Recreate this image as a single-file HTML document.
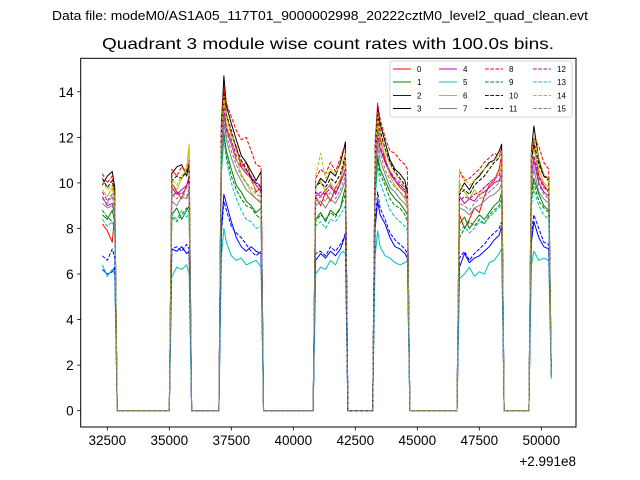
<!DOCTYPE html>
<html><head><meta charset="utf-8">
<style>
html,body{margin:0;padding:0;background:#fff;}
svg{display:block;font-family:"Liberation Sans",sans-serif;}
</style></head>
<body>
<svg id="chart" width="640" height="480" viewBox="0 0 640 480">
<rect x="0" y="0" width="640" height="480" fill="#fff"/>
<text x="320" y="20" text-anchor="middle" font-size="13" textLength="536" lengthAdjust="spacingAndGlyphs">Data file: modeM0/AS1A05_117T01_9000002998_20222cztM0_level2_quad_clean.evt</text>
<text x="328" y="49" text-anchor="middle" font-size="16" textLength="452" lengthAdjust="spacingAndGlyphs">Quadrant 3 module wise count rates with 100.0s bins.</text>
<g id="plot"></g>
<g id="axes"></g>
<g id="legend"></g>
</svg>
<script>
const times=[32300,32500,32700,32800,32900,35000,35100,35300,35500,35700,35800,35900,37000,37100,37200,37300,37500,37700,37900,38100,38300,38500,38700,38800,40800,40900,41100,41300,41500,41700,41900,42000,42100,42200,43200,43300,43400,43500,43700,43900,44100,44300,44500,44600,44700,46600,46700,46900,47100,47300,47500,47700,47900,48100,48300,48400,48500,49500,49600,49700,49900,50100,50300,50400];
const ch0=[8.2,7.9,7.4,8.6,0,0,10.0,9.6,9.3,9.9,10.3,0,0,12.0,14.2,13.0,12.1,11.6,10.7,10.9,10.2,9.6,9.8,0,0,9.4,9.0,9.6,9.2,9.8,10.1,10.6,11.0,0,0,10.6,12.8,12.0,11.0,10.5,10.1,9.8,9.6,9.2,0,0,8.6,8.0,8.4,8.9,8.7,9.4,9.9,10.1,10.6,11.2,0,0,10.8,11.7,10.3,9.9,9.6,1.7];
const ch1=[8.6,8.4,8.8,8.3,0,0,8.6,8.9,8.4,8.8,9.0,0,0,10.5,12.2,11.4,10.6,9.9,9.6,9.2,9.0,8.7,8.9,0,0,8.4,8.7,8.3,8.8,8.6,8.9,9.4,9.8,0,0,9.6,11.2,10.6,10.1,9.6,9.3,9.1,8.8,8.6,0,0,8.2,8.5,8.0,8.3,8.6,8.4,8.7,9.0,9.2,9.6,0,0,9.6,10.2,9.5,9.0,8.8,1.6];
const ch2=[6.2,6.0,6.1,6.3,0,0,7.1,7.0,7.2,6.9,7.0,0,0,8.0,9.5,9.1,8.3,7.6,7.2,7.0,7.2,7.0,6.9,0,0,6.6,6.9,6.7,7.0,6.8,7.1,7.4,7.8,0,0,8.0,9.2,8.6,8.2,7.6,7.2,7.1,6.9,6.7,0,0,6.3,6.9,6.5,6.7,6.8,7.0,7.2,7.5,7.7,8.1,0,0,7.4,8.3,7.6,7.2,7.1,1.9];
const ch3=[9.9,10.3,10.5,9.8,0,0,10.4,10.7,10.8,10.3,10.9,0,0,12.5,14.7,13.4,12.6,11.9,11.2,10.9,10.5,10.1,10.5,0,0,9.8,10.2,10.0,10.5,10.3,10.9,11.3,11.8,0,0,11.5,13.4,12.6,11.8,11.0,10.6,10.4,10.1,9.6,0,0,9.6,10.0,9.7,10.1,10.3,10.6,10.9,11.0,11.4,11.7,0,0,11.4,12.5,11.0,10.3,10.2,1.8];
const ch4=[9.4,9.0,9.1,8.7,0,0,9.8,9.5,9.7,9.9,10.1,0,0,11.5,13.0,12.3,11.7,11.0,10.7,10.4,10.2,9.9,9.6,0,0,9.6,9.4,9.7,9.9,9.5,10.0,10.3,10.6,0,0,10.4,12.0,11.5,10.9,10.4,10.1,9.9,9.7,9.5,0,0,9.4,9.1,9.3,9.2,9.5,9.6,9.8,10.0,10.1,10.4,0,0,10.4,11.0,10.0,9.6,9.4,1.7];
const ch5=[6.4,5.9,6.2,6.0,0,0,5.9,6.3,6.2,6.4,6.0,0,0,6.8,8.0,7.4,6.8,6.6,6.7,6.4,6.5,6.6,6.3,0,0,6.0,6.3,6.2,6.6,6.4,6.9,7.0,6.9,0,0,6.8,7.9,7.2,6.8,6.7,6.5,6.4,6.5,6.6,0,0,5.8,6.0,6.3,5.9,6.1,6.0,6.5,6.6,6.9,7.1,0,0,6.4,7.0,6.6,6.7,6.6,1.4];
const ch6=[9.7,9.4,9.8,9.2,0,0,10.0,9.7,10.2,10.6,11.7,0,0,11.8,13.5,12.6,11.8,11.1,10.4,10.0,9.6,9.3,9.2,0,0,9.8,10.1,9.6,10.0,9.7,10.2,10.5,10.9,0,0,10.8,12.5,11.8,11.2,10.3,9.9,9.6,9.3,9.0,0,0,10.0,9.6,9.3,9.7,9.4,9.8,10.0,10.2,10.4,10.8,0,0,10.9,11.5,10.6,10.0,9.8,1.8];
const ch7=[9.1,8.9,9.0,8.6,0,0,9.2,9.0,9.4,9.3,9.6,0,0,11.0,12.6,11.9,11.1,10.5,10.1,9.7,9.5,9.3,9.1,0,0,9.0,9.2,8.9,9.3,9.1,9.5,9.8,10.1,0,0,10.0,11.6,11.0,10.4,9.8,9.6,9.3,9.1,8.9,0,0,8.9,8.8,8.6,8.9,9.0,9.2,9.4,9.5,9.7,10.0,0,0,9.9,10.6,9.6,9.3,9.1,1.6];
const ch8=[10.4,10.0,10.3,9.4,0,0,10.6,10.3,10.7,10.5,11.0,0,0,12.8,14.2,13.5,12.9,12.3,11.9,12.0,11.4,10.8,10.7,0,0,10.2,10.6,10.4,10.9,10.5,11.1,11.4,11.5,0,0,11.8,13.5,12.8,12.0,11.4,11.3,11.0,10.8,10.6,0,0,10.5,10.1,10.2,10.4,10.6,10.9,11.1,11.3,11.2,11.5,0,0,11.2,12.0,11.6,10.9,10.6,1.9];
const ch9=[8.8,8.5,8.3,8.0,0,0,8.5,8.3,8.6,8.9,8.7,0,0,10.5,12.0,11.2,10.3,9.7,9.3,9.0,8.9,8.6,8.4,0,0,8.3,8.6,8.4,8.7,8.5,8.9,9.2,9.5,0,0,9.4,11.0,10.4,9.9,9.3,9.0,8.9,8.6,8.3,0,0,7.6,8.0,8.3,8.1,8.4,8.2,8.6,8.8,9.0,9.3,0,0,9.3,10.0,9.2,8.9,8.7,1.5];
const ch10=[6.8,6.6,7.1,6.7,0,0,7.1,7.2,7.0,7.3,7.1,0,0,7.8,9.2,8.8,8.1,7.8,7.6,7.3,7.0,6.8,7.0,0,0,6.9,7.0,6.8,7.2,7.0,7.3,7.5,7.6,0,0,8.2,9.6,8.9,8.4,7.8,7.5,7.3,7.1,6.9,0,0,6.7,7.0,6.6,6.9,7.1,7.3,7.6,7.8,8.0,8.3,0,0,7.8,8.6,8.0,7.4,7.3,1.9];
const ch11=[10.2,9.8,10.1,9.4,0,0,10.1,10.3,10.2,10.5,10.6,0,0,12.2,13.9,13.0,12.3,11.5,11.0,10.6,10.2,10.0,9.8,0,0,9.9,10.0,9.8,10.2,10.0,10.4,10.8,11.2,0,0,11.2,13.0,12.3,11.5,10.9,10.5,10.2,9.9,9.6,0,0,9.5,9.7,9.5,9.9,10.1,10.3,10.6,10.9,11.1,11.5,0,0,10.9,11.8,10.8,10.3,10.1,1.8];
const ch12=[9.6,9.2,9.5,8.9,0,0,9.4,9.6,9.5,9.8,9.9,0,0,11.6,13.3,12.4,11.9,11.2,10.9,10.5,10.3,10.0,9.9,0,0,9.4,9.6,9.5,9.8,9.6,10.0,10.3,10.4,0,0,10.6,12.3,11.6,11.0,10.5,10.2,10.0,9.8,9.6,0,0,9.2,9.4,9.3,9.5,9.6,9.8,10.0,10.2,10.3,10.6,0,0,10.3,11.2,10.2,9.8,9.6,1.7];
const ch13=[8.4,8.1,8.3,8.0,0,0,8.6,8.4,8.8,8.5,8.7,0,0,10.4,12.0,11.0,10.0,9.3,8.8,8.4,8.3,8.0,8.1,0,0,8.1,8.3,8.0,8.4,8.3,8.6,8.8,9.0,0,0,9.2,10.8,10.0,9.4,8.8,8.5,8.3,8.1,7.9,0,0,7.9,8.1,7.8,8.0,8.3,8.2,8.5,8.7,8.9,9.1,0,0,9.0,9.7,9.0,8.6,8.4,1.5];
const ch14=[10.1,9.7,9.9,9.5,0,0,10.2,9.9,10.3,10.7,11.5,0,0,12.2,13.8,12.9,12.2,11.4,10.9,10.5,10.1,9.7,9.5,0,0,10.3,11.3,10.2,10.6,10.4,10.8,11.0,11.3,0,0,11.3,12.9,12.1,11.4,10.8,10.4,10.1,9.8,9.5,0,0,10.6,10.2,9.9,10.1,10.4,10.6,10.8,11.0,11.2,11.4,0,0,11.3,12.0,11.1,10.4,10.2,1.8];
const ch15=[9.3,9.1,9.4,8.9,0,0,9.5,9.3,9.6,9.4,9.8,0,0,11.3,12.9,12.1,11.4,10.8,10.3,10.0,9.8,9.5,9.4,0,0,9.2,9.4,9.2,9.6,9.3,9.7,10.0,10.3,0,0,10.3,11.9,11.3,10.6,10.1,9.8,9.6,9.4,9.2,0,0,9.1,9.0,8.8,9.1,9.3,9.4,9.6,9.8,10.0,10.2,0,0,10.1,10.9,9.9,9.5,9.3,1.6];
const seriesLabels=["0","1","2","3","4","5","6","7","8","9","10","11","12","13","14","15"];
const xTicks=[32500,35000,37500,40000,42500,45000,47500,50000];
const yTicks=[0,2,4,6,8,10,12,14];

const series=[ch0,ch1,ch2,ch3,ch4,ch5,ch6,ch7,ch8,ch9,ch10,ch11,ch12,ch13,ch14,ch15];
const colors=["#ff0000","#008000","#0000ff","#000000","#bf00bf","#00bfbf","#bfbf00","#808080"];
const L=80.7,R=576,T=58.3,B=427;
const X0=31427,X1=51399,Y0=-0.715,Y1=15.47;
function xs(v){return L+(v-X0)/(X1-X0)*(R-L);}
function ys(v){return B-(v-Y0)/(Y1-Y0)*(B-T);}
const NS="http://www.w3.org/2000/svg";
function mk(tag,attrs,parent){const e=document.createElementNS(NS,tag);for(const k in attrs)e.setAttribute(k,attrs[k]);parent.appendChild(e);return e;}
const plot=document.getElementById('plot');
const axes=document.getElementById('axes');
const leg=document.getElementById('legend');
series.forEach((s,i)=>{
  const d=s.map((v,j)=>(j?'L':'M')+xs(times[j]).toFixed(2)+','+ys(v).toFixed(2)).join('');
  const p=mk('path',{d:d,fill:'none',stroke:colors[i%8],'stroke-width':1,'stroke-linejoin':'round'},plot);
  if(i>=8)p.setAttribute('stroke-dasharray','3.7,1.6');
  
  
});
const frame=mk('rect',{x:L,y:T,width:R-L,height:B-T,fill:'none',stroke:'#000','stroke-width':1},axes);


xTicks.forEach(t=>{
  const x=xs(t);
  const tk=mk('line',{x1:x,x2:x,y1:B,y2:B+3.5,stroke:'#000','stroke-width':0.8},axes);
  
  
  const tx=mk('text',{x:x,y:B+18,'text-anchor':'middle','font-size':13.5},axes);
  tx.textContent=t;
  
  
});
yTicks.forEach(t=>{
  const y=ys(t);
  const tk=mk('line',{x1:L-3.5,x2:L,y1:y,y2:y,stroke:'#000','stroke-width':0.8},axes);
  
  
  const tx=mk('text',{x:L-7,y:y+5,'text-anchor':'end','font-size':13.5},axes);
  tx.textContent=t;
  
  
});
const off=mk('text',{x:576,y:466,'text-anchor':'end','font-size':13.5},axes);
off.textContent='+2.991e8';


const lb=mk('rect',{x:390,y:61,width:182,height:56,fill:'#fff','fill-opacity':0.8,stroke:'#ccc','stroke-width':0.8,rx:2},leg);


const colX=[393,439,485,533],rowY=[69,82,95.5,108.5];
series.forEach((s,i)=>{
  const c=Math.floor(i/4),r=i%4;
  const g=mk('g',{},leg);
  
  
  const ln=mk('line',{x1:colX[c],x2:colX[c]+18,y1:rowY[r],y2:rowY[r],stroke:colors[i%8],'stroke-width':1},g);
  if(i>=8)ln.setAttribute('stroke-dasharray','3.7,1.6');
  const tx=mk('text',{x:colX[c]+24,y:rowY[r]+3,'font-size':8},g);
  tx.textContent=seriesLabels[i];
});
</script>
</body></html>
